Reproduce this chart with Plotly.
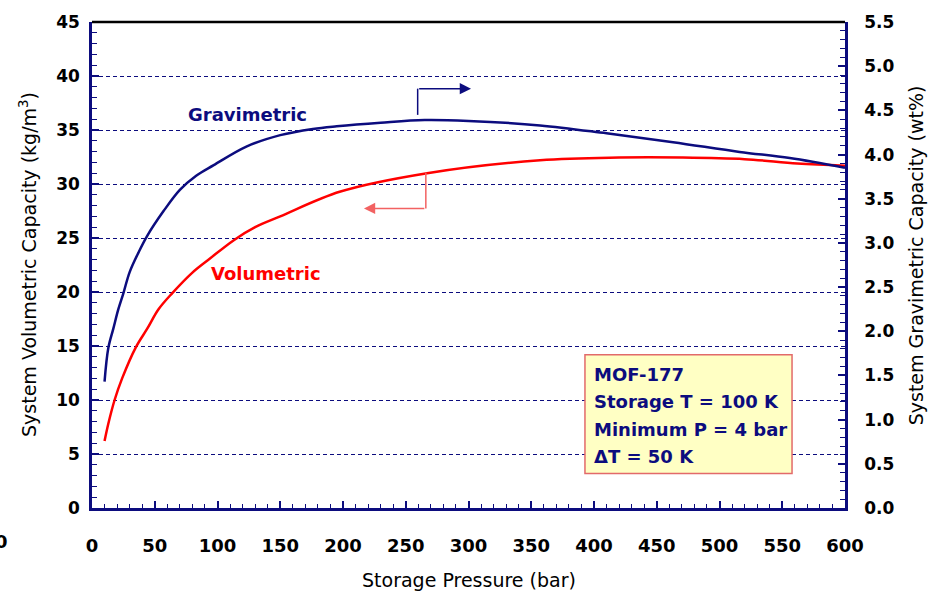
import plotly.graph_objects as go

# Storage pressure (bar) and system capacities for MOF-177 at 100 K
pressure_grav = [10, 13, 17, 21, 25, 30, 37, 44, 57, 70, 83, 97, 123, 150, 176, 195,
                 230, 265, 300, 357, 410, 463, 516, 556, 600]
grav_wt = [1.43, 1.81, 2.03, 2.25, 2.43, 2.67, 2.89, 3.08, 3.36, 3.60, 3.76, 3.88,
           4.09, 4.22, 4.29, 4.32, 4.36, 4.39, 4.38, 4.33, 4.24, 4.14, 4.03, 3.96, 3.85]

pressure_vol = [10, 13, 18, 24, 35, 44, 53, 64, 80, 94, 113, 130, 150, 198, 267, 357,
                420, 470, 520, 562, 600]
vol_kg = [6.2, 7.8, 10.0, 12.0, 14.9, 16.6, 18.4, 19.9, 21.8, 23.1, 24.8, 26.0, 27.0,
          29.3, 31.0, 32.2, 32.45, 32.45, 32.3, 31.9, 31.7]

x_ticks = list(range(0, 601, 50))
y_ticks = list(range(0, 46, 5))
y2_ticks = [i * 0.5 for i in range(12)]

info_lines = ["MOF-177", "Storage T = 100 K", "Minimum P = 4 bar", "\u0394T = 50 K"]

NAVY = "#0c0c7e"
RED = "#ff0000"
ARROW_RED = "#f26262"
FONT = "DejaVu Sans, Verdana, sans-serif"

fig = go.Figure()

fig.add_trace(go.Scatter(
    x=pressure_vol, y=vol_kg, mode="lines", name="Volumetric",
    line=dict(color=RED, width=2.5, shape="spline", smoothing=1.0),
    yaxis="y", showlegend=False,
))
fig.add_trace(go.Scatter(
    x=pressure_grav, y=grav_wt, mode="lines", name="Gravimetric",
    line=dict(color=NAVY, width=2.5, shape="spline", smoothing=1.0),
    yaxis="y2", showlegend=False,
))

xtick_font = dict(family=FONT, size=18, color="black", weight="bold")
ytick_font = dict(family=FONT, size=17, color="black", weight="bold")

fig.update_layout(
    width=933, height=593,
    margin=dict(l=92, r=88, t=17, b=85),
    paper_bgcolor="white", plot_bgcolor="white",
    font=dict(family=FONT),
    xaxis=dict(
        range=[0, 600], tickvals=x_ticks, ticktext=[str(v) for v in x_ticks],
        ticks="inside", ticklen=7, tickwidth=1.5, tickcolor=NAVY,
        minor=dict(dtick=10, ticks="inside", ticklen=4, tickwidth=1, tickcolor=NAVY),
        showline=True, linecolor=NAVY, linewidth=2.5,
        showgrid=False, zeroline=False, tickfont=xtick_font,
        ticklabelstandoff=20,
    ),
    yaxis=dict(
        range=[0, 45], tickvals=y_ticks, ticktext=[str(v) for v in y_ticks],
        ticks="inside", ticklen=7, tickwidth=1.5, tickcolor=NAVY,
        minor=dict(dtick=1, ticks="inside", ticklen=5, tickwidth=1, tickcolor=NAVY),
        showline=True, linecolor=NAVY, linewidth=2.5,
        showgrid=True, gridcolor=NAVY, gridwidth=1, griddash="4px,3px",
        zeroline=False, tickfont=ytick_font, ticklabelstandoff=6,
    ),
    yaxis2=dict(
        range=[0, 5.5], tickvals=y2_ticks, ticktext=[f"{v:.1f}" for v in y2_ticks],
        overlaying="y", side="right", anchor="x",
        ticks="inside", ticklen=7, tickwidth=1.5, tickcolor=NAVY,
        minor=dict(dtick=0.1, ticks="inside", ticklen=5, tickwidth=1, tickcolor=NAVY),
        showline=True, linecolor=NAVY, linewidth=2.5,
        showgrid=False, zeroline=False, tickfont=ytick_font, ticklabelstandoff=13,
    ),
)

# black frame along the top edge
fig.add_shape(type="line", xref="paper", yref="paper", x0=0, x1=1, y0=1, y1=1,
              line=dict(color="black", width=2.5))

# axis titles
title_font = dict(family=FONT, size=19, color="black")
fig.add_annotation(text="Storage Pressure (bar)", xref="paper", yref="paper",
                   x=0.5, y=0, yshift=-72, showarrow=False, font=title_font,
                   xanchor="center", yanchor="middle")
fig.add_annotation(text="System Volumetric Capacity (kg/m<sup>3</sup>)", xref="paper",
                   yref="paper", x=0, y=0.5, xshift=-64, textangle=-90,
                   showarrow=False, font=title_font, xanchor="center", yanchor="middle")
fig.add_annotation(text="System Gravimetric Capacity (wt%)", xref="paper",
                   yref="paper", x=1, y=0.52, xshift=71, textangle=-90,
                   showarrow=False, font=title_font, xanchor="center", yanchor="middle")
fig.add_annotation(text="0", xref="paper", yref="paper", x=0, y=0, xshift=-91,
                   yshift=-33, showarrow=False, font=xtick_font,
                   xanchor="center", yanchor="middle")

# curve labels
label_font = dict(family=FONT, size=18, weight="bold")
fig.add_annotation(text="Gravimetric", x=124, y=36.4, xref="x", yref="y",
                   showarrow=False, font=dict(**label_font, color=NAVY))
fig.add_annotation(text="Volumetric", x=138.4, y=21.7, xref="x", yref="y",
                   showarrow=False, font=dict(**label_font, color=RED))

# elbow arrows pointing to each curve's axis
fig.add_shape(type="line", xref="x", yref="y", x0=259.5, x1=259.5, y0=36.4, y1=38.83,
              line=dict(color=NAVY, width=1.5))
fig.add_annotation(x=302, y=38.83, ax=259.5, ay=38.83, xref="x", yref="y",
                   axref="x", ayref="y", text="", showarrow=True, arrowhead=2,
                   arrowsize=1.5, arrowwidth=1.5, arrowcolor=NAVY)
fig.add_shape(type="line", xref="x", yref="y", x0=266, x1=266, y0=31.05, y1=27.74,
              line=dict(color=ARROW_RED, width=1.5))
fig.add_annotation(x=216.7, y=27.74, ax=266, ay=27.74, xref="x", yref="y",
                   axref="x", ayref="y", text="", showarrow=True, arrowhead=2,
                   arrowsize=1.5, arrowwidth=1.5, arrowcolor=ARROW_RED)

# conditions box
fig.add_shape(type="rect", xref="x", yref="y", x0=392.8, x1=557.8, y0=3.2, y1=14.2,
              fillcolor="#ffffc4", line=dict(color="#e26a6a", width=1.5), layer="above")
line_y = [12.4, 9.85, 7.3, 4.75]
for txt, yy in zip(info_lines, line_y):
    fig.add_annotation(text=txt, x=398.5, y=yy, xref="x", yref="y", showarrow=False,
                       xanchor="left", yanchor="middle",
                       font=dict(family=FONT, size=18, weight="bold", color=NAVY))

fig.write_html("out.html")
